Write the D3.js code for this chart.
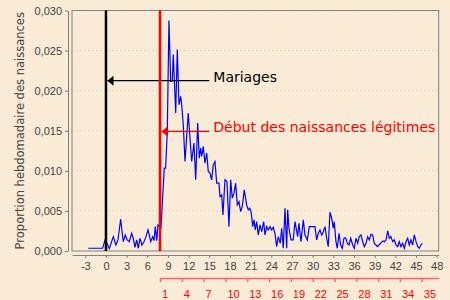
<!DOCTYPE html>
<html>
<head>
<meta charset="utf-8">
<script src="https://cdn.jsdelivr.net/npm/d3@7"></script>
<style>
    body { margin: 0; background: #faebd7; }
    svg { display: block; font-family: "DejaVu Sans", sans-serif; }
    .axis text { fill: #444; font-size: 11px; }
    .axis path, .axis line { stroke: #808080; }
    .grid line { stroke: #e2d6c4; stroke-dasharray: 2,2; }
</style>
</head>
<body>
<svg width="450" height="300"></svg>
<script>
// semaines depuis le mariage / proportion hebdomadaire des naissances
let weeks = [-2.57, -0.48, -0.10, 0.48, 1.06, 1.45, 1.74, 2.13, 2.51, 2.80, 3.09, 3.38, 3.73, 3.96, 4.21, 4.46, 4.69, 4.93,
    5.22, 5.52, 5.81, 6.10, 6.28, 6.49, 6.78, 6.97, 7.16, 7.36, 7.55, 7.98, 8.46, 8.66, 8.90, 9.14, 9.39, 9.62, 9.77,
    10.12, 10.35, 10.60, 10.84, 10.99, 11.22, 11.47, 11.94, 12.19, 12.44, 12.77, 13.02, 13.31, 13.54, 13.74, 13.89,
    14.12, 14.37, 14.62, 14.85, 15.09, 15.34, 15.57, 15.82, 16.07, 16.40, 16.55, 16.79, 16.98, 17.27, 17.56, 17.85,
    18.10, 18.33, 18.58, 18.82, 19.06, 19.30, 19.55, 19.78, 20.07, 20.42, 20.65, 20.86, 21.04, 21.15, 21.29, 21.48,
    21.67, 21.87, 22.10, 22.35, 22.60, 22.89, 23.08, 23.32, 23.56, 23.80, 24.05, 24.28, 24.53, 24.77, 25.01, 25.30,
    25.50, 25.73, 25.98, 26.23, 26.37, 26.56, 26.85, 27.18, 27.43, 27.82, 28.01, 28.30, 28.64, 28.88, 29.22, 29.51,
    29.86, 30.33, 30.58, 30.81, 31.06, 31.31, 31.54, 31.79, 32.03, 32.26, 32.51, 32.76, 32.99, 33.13, 33.38, 33.57,
    33.82, 34.06, 34.30, 34.54, 34.79, 35.02, 35.27, 35.52, 35.81, 36.04, 36.28, 36.53, 36.76, 37.01, 37.26, 37.49,
    37.74, 37.98, 38.21, 38.46, 38.71, 38.94, 39.19, 39.38, 39.62, 39.87, 40.16, 40.39, 40.64, 40.89, 41.12, 41.36,
    41.61, 41.84, 42.09, 42.34, 42.57, 42.82, 43.06, 43.30, 43.54, 43.79, 44.02, 44.27, 44.52, 44.75, 45.00, 45.25,
    45.47, 45.72, 45.91];
let props = [0.00034, 0.00034, 0.00146, 0.00029, 0.00179, 0.00075, 0.00138, 0.00396, 0.00116, 0.0020, 0.00138, 0.00116,
    0.00221, 0.00159, 0.00046, 0.00138, 0.00034, 0.00159, 0.00075, 0.00116, 0.00179, 0.00263, 0.0020, 0.00116,
    0.00179, 0.00129, 0.00304, 0.00130, 0.00325, 0.00288, 0.01034, 0.01034, 0.01491, 0.02875, 0.02116, 0.02116,
    0.0245, 0.01721, 0.02513, 0.01825, 0.01929, 0.01825, 0.01575, 0.01116, 0.01721, 0.01409, 0.01116, 0.01346,
    0.00888, 0.01596, 0.01159, 0.01284, 0.01179, 0.01304, 0.01096, 0.01221, 0.00991, 0.00971, 0.00888, 0.01075,
    0.01116, 0.00846, 0.00846, 0.00679, 0.0070, 0.0045, 0.00888, 0.00866, 0.00304, 0.00888, 0.00659, 0.00721,
    0.00846, 0.00575, 0.00616, 0.00491, 0.00554, 0.00763, 0.00575, 0.00513, 0.00534, 0.00491, 0.00429, 0.00304,
    0.00388, 0.00263, 0.00366, 0.0020, 0.00325, 0.00241, 0.00366, 0.0020, 0.00304, 0.00263, 0.00304, 0.00263,
    0.00296, 0.00221, 0.00054, 0.00179, 0.00096, 0.00284, 0.00034, 0.00534, 0.00034, 0.00513, 0.00284, 0.00138,
    0.00138, 0.00366, 0.00179, 0.00346, 0.00116, 0.00388, 0.0020, 0.00138, 0.00304, 0.00304, 0.00304, 0.00138,
    0.00221, 0.00263, 0.0020, 0.00241, 0.00304, 0.00159, 0.00054, 0.00484, 0.00409, 0.00284, 0.00366, 0.00116,
    0.00034, 0.00221, 0.00075, 0.00034, 0.00159, 0.00166, 0.00096, 0.00075, 0.00159, 0.00075, 0.00034, 0.00159,
    0.00096, 0.00179, 0.0020, 0.00116, 0.00054, 0.00096, 0.00179, 0.00138, 0.00209, 0.0020, 0.00096, 0.00075,
    0.00054, 0.00075, 0.00096, 0.00125, 0.00116, 0.00138, 0.0025, 0.00159, 0.00179, 0.00116, 0.00138, 0.00075,
    0.00054, 0.00116, 0.00054, 0.00096, 0.00034, 0.00116, 0.00159, 0.00075, 0.00138, 0.00075, 0.0020, 0.00116,
    0.00054, 0.00034, 0.00075, 0.00096];

let xTicks = [-3, 0, 3, 6, 9, 12, 15, 18, 21, 24, 27, 30, 33, 36, 39, 42, 45, 48];
let yTicks = [0, 0.005, 0.010, 0.015, 0.020, 0.025, 0.030];
// axe rouge : semaines depuis le debut des naissances legitimes
let birthTicks = [1, 4, 7, 10, 13, 16, 19, 22, 25, 28, 31, 34, 37];
let birthLabels = ["1", "4", "7", "10", "13", "16", "19", "22", "25", "28", "31", "34", "35"];

let marriageWeek = 0;
let firstBirthWeek = 7.84;
let markers = [
    { label: "Mariages", week: marriageWeek, level: 0.02125, color: "#000" },
    { label: "Début des naissances légitimes", week: firstBirthWeek, level: 0.01491, color: "#ff0000" }
];
let yTitle = "Proportion hebdomadaire des naissances";

let draw = function () {
    let svg = d3.select("svg"),
        left = 72, right = 438.7, top = 10.5, bottom = 251;

    let x = d3.scaleLinear().domain([-4.93, 48.29]).range([left, right]),
        y = d3.scaleLinear().domain([0, 0.030]).range([bottom, top]);

    // fond et grille
    svg.append("rect")
        .attr("x", left).attr("y", top)
        .attr("width", right - left).attr("height", bottom - top)
        .attr("fill", "#faebd7");

    svg.append("g")
        .attr("class", "grid")
        .selectAll("line")
        .data(xTicks)
        .join("line")
        .attr("x1", d => x(d)).attr("x2", d => x(d))
        .attr("y1", top).attr("y2", bottom)
        .style("stroke", "#f6efe4");

    svg.append("g")
        .attr("class", "grid")
        .selectAll("line")
        .data(yTicks.slice(1, -1))
        .join("line")
        .attr("x1", left).attr("x2", right)
        .attr("y1", d => y(d)).attr("y2", d => y(d));

    svg.append("rect")
        .attr("x", left).attr("y", top)
        .attr("width", right - left).attr("height", bottom - top)
        .attr("fill", "none")
        .attr("stroke", "#808080");

    // axes, un peu decales du cadre
    svg.append("g")
        .attr("class", "axis")
        .attr("transform", "translate(" + (left - 4) + ",0)")
        .call(d3.axisLeft(y).tickValues(yTicks).tickSize(3).tickSizeOuter(0).tickPadding(3)
            .tickFormat(d => d3.format(".3f")(d).replace(".", ",")));

    svg.append("g")
        .attr("class", "axis")
        .attr("transform", "translate(0," + (bottom + 4) + ")")
        .call(d3.axisBottom(x).tickValues(xTicks).tickSize(3).tickSizeOuter(0).tickPadding(4)
            .tickFormat(d => String(d)));

    let xb = d3.scaleLinear().domain([1, 39.33]).range([x(firstBirthWeek), right]);
    let birthAxis = svg.append("g")
        .attr("transform", "translate(0,278)")
        .call(d3.axisBottom(xb).tickValues(birthTicks).tickSize(4).tickSizeOuter(0).tickPadding(8)
            .tickFormat((d, i) => birthLabels[i]));
    birthAxis.selectAll("path, line").attr("stroke", "#ff6464").attr("stroke-width", 1.5);
    birthAxis.selectAll("text")
        .attr("text-anchor", "start")
        .attr("dx", 1.5)
        .attr("fill", "#ff0000")
        .style("font-size", "11px");

    svg.append("text")
        .attr("text-anchor", "middle")
        .attr("transform", "translate(24," + ((top + bottom) / 2) + ")rotate(-90)")
        .attr("fill", "#444")
        .style("font-size", "11.5px")
        .text(yTitle);

    // serie
    let line = d3.line()
        .x((d, i) => x(weeks[i]))
        .y(d => y(d));

    svg.append("path")
        .datum(props)
        .attr("fill", "none")
        .attr("stroke", "#0000ff")
        .attr("stroke-width", 1.2)
        .attr("d", line);

    // reperes verticaux et fleches
    markers.forEach(m => {
        svg.append("line")
            .attr("x1", x(m.week)).attr("x2", x(m.week))
            .attr("y1", top).attr("y2", bottom)
            .attr("stroke", m.color)
            .attr("stroke-width", 2.5);

        let tip = x(m.week) + 1.5, ly = y(m.level);
        svg.append("line")
            .attr("x1", tip).attr("x2", x(15))
            .attr("y1", ly).attr("y2", ly)
            .attr("stroke", m.color)
            .attr("stroke-width", 1.2);
        svg.append("path")
            .attr("d", "M" + tip + "," + ly + "L" + (tip + 6) + "," + (ly - 5) + "L" + (tip + 6) + "," + (ly + 5) + "Z")
            .attr("fill", m.color);
        svg.append("text")
            .attr("x", x(15) + 4)
            .attr("y", ly + 1)
            .attr("fill", m.color)
            .style("font-size", "14px")
            .text(m.label);
    });
};

draw();
</script>
</body>
</html>
